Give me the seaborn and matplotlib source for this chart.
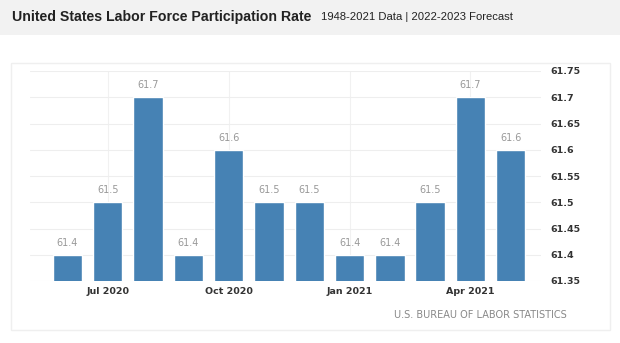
import matplotlib
matplotlib.use("Agg")
import matplotlib.pyplot as plt
import seaborn as sns
import pandas as pd
from matplotlib.patches import Rectangle

months = ["Jun 2020", "Jul 2020", "Aug 2020", "Sep 2020", "Oct 2020", "Nov 2020",
          "Dec 2020", "Jan 2021", "Feb 2021", "Mar 2021", "Apr 2021", "May 2021"]
values = [61.4, 61.5, 61.7, 61.4, 61.6, 61.5, 61.5, 61.4, 61.4, 61.5, 61.7, 61.6]
tick_labels = ["Jul 2020", "Oct 2020", "Jan 2021", "Apr 2021"]
y_ticks = [61.35, 61.4, 61.45, 61.5, 61.55, 61.6, 61.65, 61.7, 61.75]
y_tick_labels = ["61.35", "61.4", "61.45", "61.5", "61.55", "61.6", "61.65", "61.7", "61.75"]

df = pd.DataFrame({"month": months, "value": values})

sns.set_style("white")
plt.rcParams["font.family"] = ["DejaVu Sans"]

fig = plt.figure(figsize=(6.2, 3.43), dpi=100)
fig.patch.set_facecolor("white")

# title band
fig.patches.append(Rectangle((0, 0.898), 1, 0.102, transform=fig.transFigure,
                             facecolor="#f2f2f2", edgecolor="none", zorder=0))
# panel border
fig.patches.append(Rectangle((11 / 620, 1 - 330 / 343), 599 / 620, 267 / 343,
                             transform=fig.transFigure, facecolor="white",
                             edgecolor="#efefef", linewidth=1.0, zorder=0))

fig.text(12 / 620, 1 - 17 / 343, "United States Labor Force Participation Rate",
         fontsize=10.2, fontweight="bold", family="Liberation Sans", color="#222222",
         va="center", ha="left")
fig.text(321 / 620, 1 - 17 / 343, "1948-2021 Data | 2022-2023 Forecast",
         fontsize=8.1, family="Liberation Sans", color="#222222", va="center", ha="left")

ax = fig.add_axes([30 / 620, 1 - 281 / 343, 511 / 620, 210 / 343])
ax.set_zorder(5)
ax.set_facecolor("none")

sns.barplot(data=df, x="month", y="value", order=months, color="#4682B4",
            saturation=1, width=0.73, ax=ax, zorder=3)

ax.set_ylim(61.35, 61.75)
ax.set_xlim(-0.93, 11.75)
ax.yaxis.tick_right()
ax.set_yticks(y_ticks)
ax.set_yticklabels(y_tick_labels, fontsize=6.8, color="#333333", fontweight="bold")
ax.tick_params(axis="y", length=0, pad=7)

tick_pos = [months.index(t) for t in tick_labels]
ax.set_xticks(tick_pos)
ax.set_xticklabels(tick_labels, fontsize=6.8, color="#333333", fontweight="bold")
ax.tick_params(axis="x", length=0, pad=4)

ax.set_xlabel("")
ax.set_ylabel("")
for s in ax.spines.values():
    s.set_visible(False)

ax.grid(True, axis="y", color="#eeeeee", linewidth=0.8, zorder=0)
ax.grid(True, axis="x", color="#f1f1f1", linewidth=0.8, zorder=0)
ax.set_axisbelow(True)

for c in ax.containers:
    ax.bar_label(c, labels=[f"{v:.1f}" for v in values], padding=5,
                 fontsize=7, color="#999999")

fig.text(567 / 620, 1 - 315 / 343, "U.S. BUREAU OF LABOR STATISTICS",
         fontsize=7, color="#888888", ha="right", va="center")

fig.savefig("out.png", dpi=100)
